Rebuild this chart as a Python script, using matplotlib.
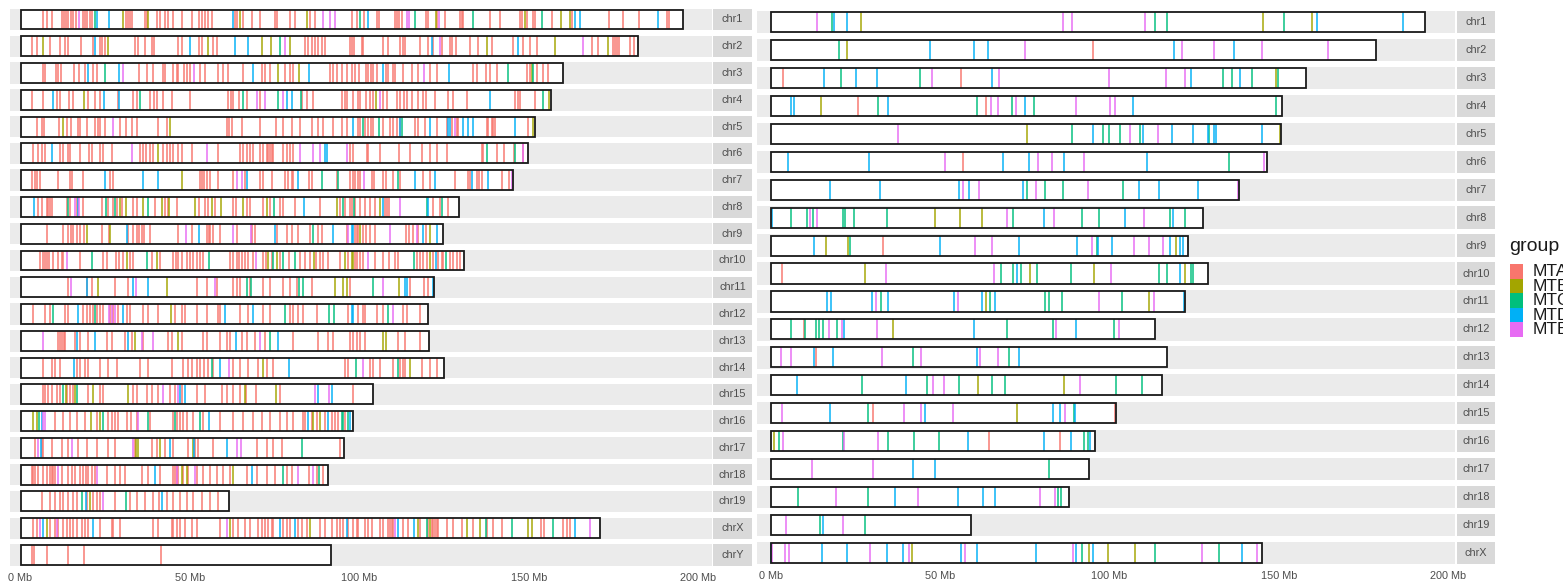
import matplotlib
matplotlib.use("Agg")
import matplotlib.pyplot as plt
from matplotlib.patches import Rectangle

plt.rcParams["font.family"] = ["Liberation Sans", "DejaVu Sans"]

# ---------------- datos ----------------
groups = ["MTA", "MTB", "MTC", "MTD", "MTE"]
group_colors = ["#F8766D", "#A3A500", "#00BF7D", "#00B0F6", "#E76BF3"]

tick_values = [0, 50, 100, 150, 200]
tick_labels = ["0 Mb", "50 Mb", "100 Mb", "150 Mb", "200 Mb"]

# panel izquierdo
left_chroms = ["chr1", "chr2", "chr3", "chr4", "chr5", "chr6", "chr7", "chr8", "chr9", "chr10",
               "chr11", "chr12", "chr13", "chr14", "chr15", "chr16", "chr17", "chr18", "chr19",
               "chrX", "chrY"]
left_lengths = [195.5, 182.1, 160.0, 156.5, 151.8, 149.7, 145.4, 129.4, 124.6, 130.7,
                122.1, 120.1, 120.4, 124.9, 104.0, 98.2, 95.3, 90.7, 61.4, 171.0, 91.7]

left_chr1 = {
    "MTA": [6.7, 7.7, 9.2, 12.1, 12.8, 13.4, 14.1, 14.8, 15.6, 16.4, 18.3, 19.0, 19.7, 20.5, 21.2,
            31.2, 31.8, 32.4, 33.0, 36.7, 37.2, 40.2, 41.1, 42.6, 43.6, 45.1, 47.5, 50.5, 52.6,
            53.4, 54.4, 55.4, 56.4, 63.3, 64.0, 65.7, 68.2, 70.6, 75.1, 75.8, 79.5, 81.0, 85.4,
            86.9, 97.7, 99.2, 101.3, 105.1, 105.9, 110.5, 111.0, 111.8, 112.4, 119.6, 120.2, 123.0,
            125.2, 129.6, 130.1, 130.6, 138.5, 141.4, 147.3, 147.8, 149.3, 151.3, 151.8, 156.7,
            162.6, 173.7, 177.6, 182.5, 190.6, 191.4],
    "MTB": [30.3, 37.7, 64.7, 84.4, 122.5, 148.8, 159.6, 162.1],
    "MTC": [22.0, 100.2, 116.4, 133.4, 153.9],
    "MTD": [22.5, 26.1, 62.8, 102.6, 163.6, 165.0, 188.2],
    "MTE": [17.2, 89.1, 91.3, 92.8, 114.1, 114.5, 123.5],
}
left_chr2 = {
    "MTA": [3.5, 5.0, 8.7, 11.6, 13.1, 14.1, 17.8, 21.3, 23.4, 24.1, 24.9, 33.8, 34.8, 36.7, 38.7,
            39.4, 46.5, 47.5, 52.8, 53.4, 56.9, 57.9, 83.9, 84.9, 85.9, 86.9, 87.9, 88.8, 89.8,
            97.2, 97.8, 98.4, 100.6, 101.1, 107.0, 108.5, 111.9, 112.7, 113.4, 117.8, 120.3,
            121.6, 124.2, 126.7, 127.2, 128.5, 132.6, 135.1, 139.0, 145.4, 148.3, 150.3, 152.3,
            168.5, 170.5, 174.9, 175.5, 176.1, 176.6, 179.8, 181.0],
    "MTB": [6.7, 25.9, 55.4, 71.1, 73.8, 79.5, 137.5, 157.7, 173.4],
    "MTC": [76.5],
    "MTD": [22.0, 50.0, 63.3, 67.2, 121.3, 146.9],
    "MTE": [78.0, 123.7, 165.8],
}
left_chr3 = {
    "MTA": [6.7, 7.3, 10.5, 11.2, 11.9, 15.8, 17.4, 19.0, 21.5, 22.5, 35.0, 37.2, 39.0, 42.1,
            42.6, 45.1, 46.1, 46.6, 48.1, 49.0, 50.0, 52.9, 54.4, 58.4, 59.6, 61.3, 65.7, 71.1,
            72.1, 73.6, 78.0, 79.5, 80.5, 91.3, 92.3, 93.3, 94.7, 96.2, 97.7, 98.7, 99.9, 101.9,
            102.6, 103.3, 104.1, 105.1, 107.8, 108.5, 109.8, 110.5, 112.9, 115.4, 117.4, 120.8,
            122.8, 133.4, 134.6, 137.3, 138.5, 140.5, 149.3, 150.3, 152.3, 154.0, 155.7],
    "MTB": [75.9, 82.3, 150.8],
    "MTC": [25.0, 143.7, 151.1],
    "MTD": [19.8, 29.1, 68.7, 85.2, 107.0, 126.4],
    "MTE": [30.3, 51.2, 119.0],
}
left_chr4 = {
    "MTA": [3.5, 6.7, 10.7, 11.7, 14.4, 15.4, 19.8, 22.0, 23.4, 28.9, 33.3, 34.3, 38.2, 39.4,
            40.2, 42.1, 44.6, 50.0, 61.3, 62.0, 62.8, 64.5, 66.7, 70.6, 82.9, 84.4, 86.4, 94.7,
            95.7, 96.4, 99.7, 98.2, 100.2, 101.9, 103.1, 104.1, 107.0, 108.2, 111.0, 112.1, 113.1,
            114.1, 115.4, 117.4, 118.8, 119.6, 122.3, 126.2, 127.5, 131.6, 145.9, 146.9, 147.5,
            151.8],
    "MTB": [18.7, 104.9, 155.9],
    "MTC": [35.2, 65.7, 76.0, 82.8, 154.2],
    "MTD": [9.7, 24.6, 29.1, 78.5, 80.0, 138.5],
    "MTE": [69.7, 72.1, 77.3, 106.2],
}
left_chr5 = {
    "MTA": [4.8, 6.2, 7.0, 11.5, 13.6, 14.8, 17.1, 17.6, 19.7, 22.0, 22.8, 23.4, 24.9, 29.4, 31.1,
            32.8, 34.3, 40.6, 43.1, 60.8, 61.5, 62.3, 65.2, 70.6, 75.5, 77.5, 80.0, 82.4, 85.9,
            87.9, 89.3, 92.3, 94.7, 96.2, 99.7, 100.2, 101.6, 102.6, 103.3, 103.9, 107.0, 109.0,
            110.0, 111.0, 111.9, 116.4, 117.4, 119.3, 122.8, 125.7, 127.2, 128.7, 129.2, 137.5,
            138.0, 139.0, 139.5, 140.0, 149.8],
    "MTB": [12.6, 44.1, 151.1],
    "MTC": [100.9, 105.9, 112.4],
    "MTD": [98.2, 111.9, 120.8, 126.2, 126.7, 130.6, 132.1, 133.6, 145.9],
    "MTE": [27.2, 128.2],
}
left_chr6 = {
    "MTA": [3.8, 5.3, 6.2, 7.2, 11.7, 12.4, 14.1, 14.6, 17.6, 20.3, 21.0, 23.4, 24.4, 26.9, 35.2,
            36.2, 37.0, 38.2, 39.0, 42.1, 43.1, 44.1, 45.1, 46.5, 47.5, 50.5, 58.4, 64.8, 65.7,
            66.7, 67.7, 68.7, 70.6, 71.6, 72.6, 73.1, 73.6, 74.1, 74.6, 77.5, 78.5, 79.5, 80.5,
            97.2, 98.2, 102.1, 102.6, 106.2, 111.8, 114.9, 118.3, 120.8, 123.0, 125.7, 136.0,
            136.5, 140.5, 142.6, 145.6, 148.3],
    "MTB": [40.6],
    "MTC": [137.7, 145.9],
    "MTD": [9.2, 89.8, 90.3],
    "MTE": [32.8, 54.9, 82.4, 86.4, 88.3, 96.2, 148.1],
}
left_chr7 = {
    "MTA": [3.5, 4.3, 5.0, 5.8, 11.2, 14.6, 15.1, 18.3, 26.4, 27.4, 52.9, 53.4, 54.1, 54.9, 55.9,
            58.4, 62.8, 66.2, 70.6, 71.6, 74.1, 78.0, 79.0, 80.0, 80.5, 85.0, 86.0, 93.3, 97.2,
            98.2, 99.7, 98.7, 100.2, 103.6, 104.3, 107.0, 107.8, 110.0, 111.9, 118.6, 120.8,
            128.2, 132.1, 132.6, 134.6, 135.4, 136.0, 141.9, 144.2],
    "MTB": [47.5],
    "MTC": [88.8, 93.8, 111.5],
    "MTD": [24.9, 36.2, 40.6, 66.7, 82.0, 116.4, 122.3, 133.1, 138.0],
    "MTE": [63.8, 65.2, 101.3, 144.9],
}
left_chr8 = {
    "MTA": [5.3, 6.2, 7.7, 8.2, 8.7, 9.2, 13.6, 14.6, 16.6, 18.5, 23.9, 25.9, 27.4, 28.6, 29.8,
            33.3, 34.3, 39.7, 42.6, 43.6, 46.1, 52.7, 54.4, 55.4, 57.4, 62.8, 63.6, 66.7, 67.7,
            71.6, 73.6, 76.5, 77.5, 81.0, 88.3, 94.2, 95.7, 97.2, 98.7, 97.7, 100.2, 101.6, 103.1,
            104.6, 107.5, 108.2, 108.8, 121.8, 123.7, 126.2],
    "MTB": [29.3, 31.1, 36.0, 41.6, 43.9, 51.5, 56.4, 59.1, 65.5, 72.6, 93.5, 106.2],
    "MTC": [14.1, 25.2, 27.9, 37.7, 74.9, 95.0, 98.4, 119.8, 124.2],
    "MTD": [4.1, 17.1, 83.6, 107.0, 120.3],
    "MTE": [16.1, 17.4, 112.1],
}
left_chr9 = {
    "MTA": [7.7, 12.4, 14.1, 14.8, 15.6, 16.6, 17.6, 18.8, 23.9, 26.2, 31.8, 33.3, 34.3, 35.1,
            35.8, 36.3, 38.2, 46.5, 50.5, 55.0, 55.5, 55.9, 56.9, 58.8, 63.8, 68.2, 69.2, 75.6,
            78.5, 80.0, 82.0, 85.4, 87.9, 88.8, 96.2, 98.7, 99.7, 99.4, 101.1, 101.9, 103.1,
            104.6, 113.7, 114.7, 115.9, 117.4, 119.6],
    "MTB": [19.5, 26.4, 100.2, 120.8],
    "MTC": [86.4],
    "MTD": [31.3, 52.8, 75.1, 92.3, 98.0, 97.7, 118.8, 123.0],
    "MTE": [48.8, 62.8, 67.9, 96.7, 109.0, 116.9],
}
left_chr10 = {
    "MTA": [5.8, 6.5, 7.2, 7.7, 8.5, 9.7, 11.2, 12.1, 12.6, 17.6, 24.4, 25.4, 28.2, 29.2, 30.3,
            32.3, 33.3, 38.7, 41.1, 44.9, 45.9, 46.5, 47.5, 49.0, 50.0, 51.0, 52.0, 52.9, 53.9,
            61.8, 62.8, 63.8, 64.5, 65.2, 66.2, 67.2, 68.7, 71.6, 72.4, 74.1, 76.5, 79.3, 82.4,
            83.9, 85.4, 87.2, 88.4, 89.3, 90.8, 94.2, 96.7, 99.2, 98.7, 100.2, 101.1, 104.6,
            107.0, 108.8, 110.5, 111.5, 116.9, 117.8, 118.8, 120.0, 121.6, 123.3, 124.2, 124.7,
            126.7, 127.7, 128.7, 129.8],
    "MTB": [31.3, 40.2, 73.1, 75.6, 86.6, 95.7, 98.0, 97.7, 120.8],
    "MTC": [21.0, 37.2, 55.7, 74.6, 77.3, 81.0, 116.2, 125.5],
    "MTD": [122.6],
    "MTE": [13.6, 69.5, 102.6],
}
left_chr11 = {
    "MTA": [14.1, 19.5, 21.0, 27.9, 31.8, 52.0, 55.0, 57.9, 62.8, 64.0, 64.7, 67.7, 71.6, 73.6,
            77.5, 79.5, 81.5, 86.0, 97.2, 115.0, 119.0, 120.3],
    "MTB": [23.0, 43.1, 92.8, 95.2, 96.2, 111.8],
    "MTC": [66.7, 67.9, 82.2, 83.4, 103.9],
    "MTD": [19.7, 33.3, 37.7, 113.4, 113.9, 121.6],
    "MTE": [14.8, 34.1, 57.4, 107.0],
}
left_chr12 = {
    "MTA": [3.8, 7.2, 8.7, 13.1, 14.1, 18.5, 19.5, 20.5, 21.5, 22.5, 23.4, 24.4, 26.4, 27.4,
            28.9, 31.3, 32.3, 36.2, 37.7, 40.6, 45.6, 47.5, 48.5, 52.0, 54.9, 58.4, 58.9, 64.8,
            67.2, 71.6, 73.6, 79.5, 80.5, 82.0, 83.4, 87.4, 96.7, 99.7, 101.1, 101.6, 105.1,
            107.0, 112.9, 113.9, 117.9],
    "MTB": [44.4],
    "MTC": [9.5, 22.0, 78.0, 91.1, 92.5, 108.5],
    "MTD": [16.9, 30.1, 60.3, 68.5, 98.0, 97.7],
    "MTE": [26.0, 26.9, 27.9, 110.0],
}
left_chr13 = {
    "MTA": [11.2, 11.7, 12.2, 12.7, 13.1, 16.1, 17.6, 20.0, 25.4, 26.9, 30.8, 32.8, 36.2, 43.6,
            44.6, 47.5, 53.9, 54.9, 58.8, 60.8, 61.8, 65.2, 66.7, 69.2, 72.1, 80.5, 87.9, 90.8,
            92.3, 97.2, 98.2, 99.2, 100.2, 101.6, 111.5, 113.4, 117.8],
    "MTB": [33.8, 46.6, 107.0, 107.8],
    "MTC": [73.6],
    "MTD": [16.6, 22.0, 31.8, 63.6, 76.1],
    "MTE": [6.7, 35.7, 39.2, 70.6],
}
left_chr14 = {
    "MTA": [6.5, 9.2, 10.2, 11.7, 16.6, 17.6, 19.0, 20.0, 23.4, 25.9, 28.4, 35.2, 37.7, 44.6,
            48.0, 49.5, 50.5, 52.0, 52.9, 54.1, 55.4, 56.9, 62.8, 64.8, 67.2, 70.2, 72.6, 74.6,
            95.7, 96.7, 103.1, 103.9, 106.0, 110.0, 111.9, 112.7, 113.4, 118.3, 120.8, 123.0],
    "MTB": [71.6, 114.9],
    "MTC": [56.6, 99.0, 111.5],
    "MTD": [15.8, 58.8, 79.3],
    "MTE": [61.5, 100.9],
}
left_chr15 = {
    "MTA": [6.7, 7.2, 8.2, 9.2, 10.7, 11.7, 13.6, 14.6, 15.4, 20.0, 23.4, 24.4, 33.3, 34.3, 37.2,
            38.7, 40.6, 44.1, 45.6, 47.5, 52.0, 54.4, 59.3, 60.8, 62.8, 64.8, 66.5, 69.5, 76.5,
            98.0],
    "MTB": [13.5, 16.1, 21.3, 31.8, 66.2, 75.4],
    "MTC": [12.6, 16.8],
    "MTD": [47.1, 48.6, 87.9, 91.8],
    "MTE": [42.1, 46.6, 86.9, 91.0],
}
left_chr16 = {
    "MTA": [10.2, 12.6, 14.6, 16.6, 19.0, 22.5, 25.9, 26.9, 27.9, 28.9, 31.3, 32.5, 34.3, 38.2,
            45.1, 46.1, 47.1, 48.0, 49.0, 51.0, 53.9, 58.8, 62.8, 65.7, 68.7, 71.1, 73.6, 76.5,
            78.5, 80.5, 83.4, 83.9, 85.9, 87.4, 89.8, 91.8, 92.8, 93.8, 95.7],
    "MTB": [3.8, 4.8, 20.7, 23.4, 86.4, 88.3],
    "MTC": [5.6, 24.4, 37.7, 45.6, 52.9, 94.7, 95.2, 96.7],
    "MTD": [6.2, 55.7, 84.9, 90.8, 97.2],
    "MTE": [6.7, 7.2, 34.8],
}
left_chr17 = {
    "MTA": [4.3, 6.2, 6.7, 9.2, 12.1, 14.1, 17.1, 19.5, 22.5, 25.9, 27.9, 33.8, 38.7, 40.2, 42.6,
            45.1, 49.5, 51.5, 52.5, 56.9, 69.7, 72.6, 74.6, 77.0, 94.2],
    "MTB": [34.1, 34.8, 41.2, 50.8],
    "MTC": [82.9],
    "MTD": [6.0, 44.1, 51.2, 60.8],
    "MTE": [5.3, 15.1, 33.3, 63.8, 65.0],
}
left_chr18 = {
    "MTA": [3.3, 3.8, 4.3, 5.3, 6.7, 7.7, 8.7, 9.2, 9.7, 10.2, 12.1, 14.1, 15.1, 16.1, 17.6, 18.5,
            19.3, 20.0, 21.0, 22.0, 25.4, 27.9, 29.4, 30.8, 35.8, 37.7, 41.2, 45.1, 45.6, 46.1,
            46.6, 48.0, 49.5, 52.0, 53.9, 55.9, 57.9, 59.8, 61.8, 66.7, 69.7, 72.6, 75.1, 78.5,
            80.0, 85.0, 87.4, 89.3],
    "MTB": [47.5, 49.0, 62.8],
    "MTC": [77.3, 88.2],
    "MTD": [39.7, 68.3],
    "MTE": [11.2, 22.5, 46.3, 51.5, 82.0, 86.4],
}
left_chr19 = {
    "MTA": [6.2, 8.7, 10.2, 11.7, 12.6, 14.1, 15.6, 16.6, 19.7, 21.5, 22.5, 23.4, 27.9, 32.3,
            34.3, 36.7, 39.2, 41.0, 43.1, 45.1, 47.1, 49.0, 51.0, 53.4, 55.9, 58.4],
    "MTB": [20.5],
    "MTC": [18.0, 31.1],
    "MTD": [19.3, 41.6],
    "MTE": [24.4],
}
left_chrX = {
    "MTA": [3.8, 4.8, 8.7, 10.2, 11.2, 12.6, 13.6, 14.6, 15.6, 16.8, 18.0, 19.0, 20.0, 23.4,
            26.9, 27.4, 29.4, 39.2, 40.6, 44.6, 45.1, 46.1, 47.1, 48.6, 50.5, 52.0, 58.8, 62.8,
            64.3, 66.2, 67.7, 70.1, 71.1, 72.1, 73.1, 74.1, 74.6, 77.5, 78.5, 79.5, 82.0, 83.0,
            84.4, 88.3, 89.8, 91.8, 93.3, 94.2, 95.2, 96.7, 98.2, 99.7, 99.2, 101.6, 102.6,
            103.6, 106.0, 107.0, 108.5, 109.0, 109.5, 110.0, 112.9, 114.4, 117.9, 120.3, 121.3,
            121.8, 122.3, 122.8, 123.3, 125.7, 127.7, 130.1, 133.6, 137.5, 139.5, 141.9, 153.7,
            154.4, 160.1, 161.1, 162.1],
    "MTB": [7.7, 61.8, 85.4, 117.4, 120.8, 131.6, 135.5, 149.8, 150.8],
    "MTC": [119.8, 137.3, 144.9, 157.2],
    "MTD": [6.5, 21.5, 76.5, 81.0, 96.2, 111.5, 116.1, 163.6],
    "MTE": [5.8, 10.7, 60.8, 110.5, 168.0],
}
left_chrY = {
    "MTA": [3.3, 4.0, 7.7, 14.1, 18.7, 41.4],
    "MTB": [], "MTC": [], "MTD": [], "MTE": [],
}

# panel derecho
right_chroms = ["chr1", "chr2", "chr3", "chr4", "chr5", "chr6", "chr7", "chr8", "chr9", "chr10",
                "chr11", "chr12", "chr13", "chr14", "chr15", "chr16", "chr17", "chr18", "chr19",
                "chrX"]
right_lengths = [193.2, 178.7, 158.0, 151.0, 150.7, 146.5, 138.3, 127.6, 123.2, 129.1,
                 122.3, 113.4, 117.0, 115.5, 101.9, 95.7, 94.0, 88.0, 59.1, 145.0]

right_chr1 = {"MTA": [], "MTB": [26.7, 145.4, 159.7], "MTC": [18.1, 113.4, 117.1, 151.6],
              "MTD": [18.6, 22.4, 161.2, 186.8], "MTE": [13.5, 86.2, 88.8, 110.5]}
right_chr2 = {"MTA": [95.0], "MTB": [22.4], "MTC": [20.2],
              "MTD": [46.9, 60.1, 64.1, 119.2, 136.9], "MTE": [75.0, 121.5, 131.0, 145.1, 164.5]}
right_chr3 = {"MTA": [3.6, 56.0], "MTB": [149.1], "MTC": [20.7, 44.0, 133.4, 136.3, 142.0, 149.9],
              "MTD": [15.7, 25.0, 31.2, 65.2, 124.2, 138.6],
              "MTE": [47.5, 67.3, 99.8, 116.6, 122.3]}
right_chr4 = {"MTA": [25.6, 63.5], "MTB": [14.8], "MTC": [31.6, 61.0, 71.1, 77.8, 149.1],
              "MTD": [5.8, 6.7, 34.7, 75.1, 106.8],
              "MTE": [65.0, 67.1, 72.4, 90.1, 100.1, 101.6]}
right_chr5 = {"MTA": [], "MTB": [75.7, 150.5], "MTC": [88.8, 98.2, 99.9, 103.1, 109.0, 129.4],
              "MTD": [95.0, 109.8, 118.5, 124.6, 129.0, 130.9, 131.5, 145.1],
              "MTE": [37.6, 106.1, 114.2]}
right_chr6 = {"MTA": [56.6], "MTB": [], "MTC": [135.2],
              "MTD": [5.1, 28.9, 68.5, 76.1, 86.5, 111.0],
              "MTE": [51.3, 78.9, 82.9, 92.6, 145.6]}
right_chr7 = {"MTA": [], "MTB": [], "MTC": [75.5, 80.9, 86.3, 103.9],
              "MTD": [17.4, 32.2, 55.5, 58.4, 74.4, 108.8, 114.5, 126.0],
              "MTE": [56.7, 61.3, 78.4, 93.7, 138.1]}
right_chr8 = {"MTA": [], "MTB": [48.4, 55.9, 62.2],
              "MTC": [6.0, 10.6, 12.5, 21.2, 22.0, 24.5, 34.2, 71.5, 91.9, 97.0, 117.9, 122.3],
              "MTD": [0.4, 80.6, 104.5, 118.7],
              "MTE": [11.6, 13.5, 69.8, 83.7, 110.1]}
right_chr9 = {"MTA": [33.2], "MTB": [16.2, 22.8, 119.6], "MTC": [23.3, 96.2],
              "MTD": [12.7, 50.0, 73.2, 90.3, 96.7, 100.6, 117.9, 120.8, 121.8],
              "MTE": [60.3, 65.2, 94.7, 107.2, 111.8, 115.7]}
right_chr10 = {"MTA": [3.3], "MTB": [27.7, 76.5, 95.5, 122.3],
               "MTC": [67.8, 71.6, 73.9, 78.5, 88.6, 114.6, 117.1, 124.1, 124.8],
               "MTD": [72.8, 120.8], "MTE": [34.0, 65.9, 100.3]}
right_chr11 = {"MTA": [], "MTB": [63.5, 111.8], "MTC": [32.5, 64.7, 80.9, 82.2, 86.1, 103.8],
               "MTD": [16.4, 17.6, 29.9, 34.7, 54.2, 62.3, 66.1, 122.0],
               "MTE": [31.0, 55.2, 97.0, 113.2]}
right_chr12 = {"MTA": [9.6], "MTB": [35.9],
               "MTC": [6.0, 9.9, 13.3, 14.1, 15.5, 19.6, 69.8, 83.2, 101.2],
               "MTD": [21.5, 60.1, 90.1], "MTE": [17.1, 20.9, 31.2, 84.1, 102.8]}
right_chr13 = {"MTA": [13.2], "MTB": [], "MTC": [42.0, 70.3],
               "MTD": [12.8, 18.2, 60.9, 73.3],
               "MTE": [2.9, 5.8, 32.8, 44.2, 61.6, 67.1]}
right_chr14 = {"MTA": [], "MTB": [61.2, 86.6],
               "MTC": [27.0, 46.0, 55.5, 65.4, 69.0, 101.9, 109.5],
               "MTD": [7.6, 40.0], "MTE": [47.9, 51.1, 91.4]}
right_chr15 = {"MTA": [30.0, 101.6], "MTB": [72.6], "MTC": [28.8, 89.5],
               "MTD": [17.4, 45.6, 83.2, 85.4, 89.8],
               "MTE": [3.2, 39.3, 44.4, 53.9, 86.8]}
right_chr16 = {"MTA": [64.3, 85.5], "MTB": [0.9],
               "MTC": [2.5, 21.2, 34.5, 42.3, 49.7, 92.6, 93.6],
               "MTD": [58.3, 80.7, 88.6, 94.2], "MTE": [3.6, 21.6, 31.7]}
right_chr17 = {"MTA": [], "MTB": [], "MTC": [82.0], "MTD": [42.0, 48.5], "MTE": [12.1, 30.0]}
right_chr18 = {"MTA": [], "MTB": [], "MTC": [7.9, 28.6, 84.7, 85.7],
               "MTD": [36.6, 55.3, 62.5, 66.2], "MTE": [19.3, 43.4, 79.4, 83.8]}
right_chr19 = {"MTA": [], "MTB": [], "MTC": [14.5, 27.8], "MTD": [15.5], "MTE": [4.5, 21.4]}
right_chrX = {"MTA": [], "MTB": [41.7, 94.0, 99.7, 107.5], "MTC": [91.8, 113.4, 132.4],
              "MTD": [0.0, 15.1, 22.5, 34.3, 39.1, 56.1, 60.9, 78.4, 90.0, 95.0, 139.0],
              "MTE": [0.4, 4.0, 5.2, 29.2, 40.8, 57.2, 89.3, 127.2, 143.5]}

left_marks = [left_chr1, left_chr2, left_chr3, left_chr4, left_chr5, left_chr6, left_chr7,
              left_chr8, left_chr9, left_chr10, left_chr11, left_chr12, left_chr13, left_chr14,
              left_chr15, left_chr16, left_chr17, left_chr18, left_chr19, left_chrX, left_chrY]
right_marks = [right_chr1, right_chr2, right_chr3, right_chr4, right_chr5, right_chr6, right_chr7,
               right_chr8, right_chr9, right_chr10, right_chr11, right_chr12, right_chr13,
               right_chr14, right_chr15, right_chr16, right_chr17, right_chr18, right_chr19,
               right_chrX]

# ---------------- figura ----------------
W, H = 1563, 583
fig = plt.figure(figsize=(W / 100, H / 100), dpi=100)


def px_axes(x0, x1, y0, y1):
    # pixeles (desde arriba) -> fraccion de figura
    return fig.add_axes([x0 / W, 1 - y1 / H, (x1 - x0) / W, (y1 - y0) / H])


def draw_panel(ax, sax, chroms, lengths, marks, xlim, band_h, rect_h):
    n = len(chroms)
    ax.set_xlim(*xlim)
    ax.set_ylim(n - 0.5, -0.5)
    for i in range(n):
        ax.add_patch(Rectangle((xlim[0], i - band_h), xlim[1] - xlim[0], 2 * band_h,
                               facecolor="#EBEBEB", edgecolor="none", zorder=0))
        ax.add_patch(Rectangle((0, i - rect_h), lengths[i], 2 * rect_h,
                               facecolor="white", edgecolor="none", zorder=1))
        for g, c in zip(groups, group_colors):
            pos = marks[i][g]
            if pos:
                ax.vlines(pos, i - rect_h, i + rect_h, colors=c, lw=1.25, alpha=0.85, zorder=2)
        ax.add_patch(Rectangle((0, i - rect_h), lengths[i], 2 * rect_h,
                               facecolor="none", edgecolor="#1A1A1A", lw=1.3, zorder=3))
    ax.set_xticks(tick_values)
    ax.set_xticklabels(tick_labels)
    ax.tick_params(axis="x", length=0, pad=3, labelsize=7.8, labelcolor="#4D4D4D")
    ax.set_yticks([])
    for s in ax.spines.values():
        s.set_visible(False)

    # etiquetas de las facetas
    sax.set_xlim(0, 1)
    sax.set_ylim(n - 0.5, -0.5)
    for i in range(n):
        sax.add_patch(Rectangle((0, i - band_h), 1, 2 * band_h,
                                facecolor="#D9D9D9", edgecolor="none"))
        sax.text(0.5, i, chroms[i], ha="center", va="center", fontsize=7.8, color="#4D4D4D")
    sax.axis("off")


pitch_l = (555 - 19.5) / 20
ax_l = px_axes(10, 712, 19.5 - pitch_l / 2, 555 + pitch_l / 2)
sx_l = px_axes(713, 752, 19.5 - pitch_l / 2, 555 + pitch_l / 2)
draw_panel(ax_l, sx_l, left_chroms, left_lengths, left_marks, (-3.1, 204.0), 0.40, 0.372)

pitch_r = (553 - 22) / 19
ax_r = px_axes(757, 1455, 22 - pitch_r / 2, 553 + pitch_r / 2)
sx_r = px_axes(1457, 1495, 22 - pitch_r / 2, 553 + pitch_r / 2)
draw_panel(ax_r, sx_r, right_chroms, right_lengths, right_marks, (-4.14, 202.07), 0.40, 0.36)

# ---------------- leyenda (recortada por el borde, como en el original) ----------------
fig.text(1509 / W, 1 - 247 / H, "group", fontsize=14, color="#1A1A1A", va="center", ha="left")
for k, (g, c) in enumerate(zip(groups, group_colors)):
    y_top = 264 + k * 14.6
    fig.add_artist(Rectangle((1510 / W, 1 - (y_top + 14.6) / H), 13 / W, 14.6 / H,
                             transform=fig.transFigure, facecolor=c, edgecolor="none"))
    fig.text(1533 / W, 1 - (y_top + 7.6) / H, g, fontsize=12.5, color="#1A1A1A",
             va="center", ha="left")

plt.savefig("out.png", dpi=100)
plt.close()
